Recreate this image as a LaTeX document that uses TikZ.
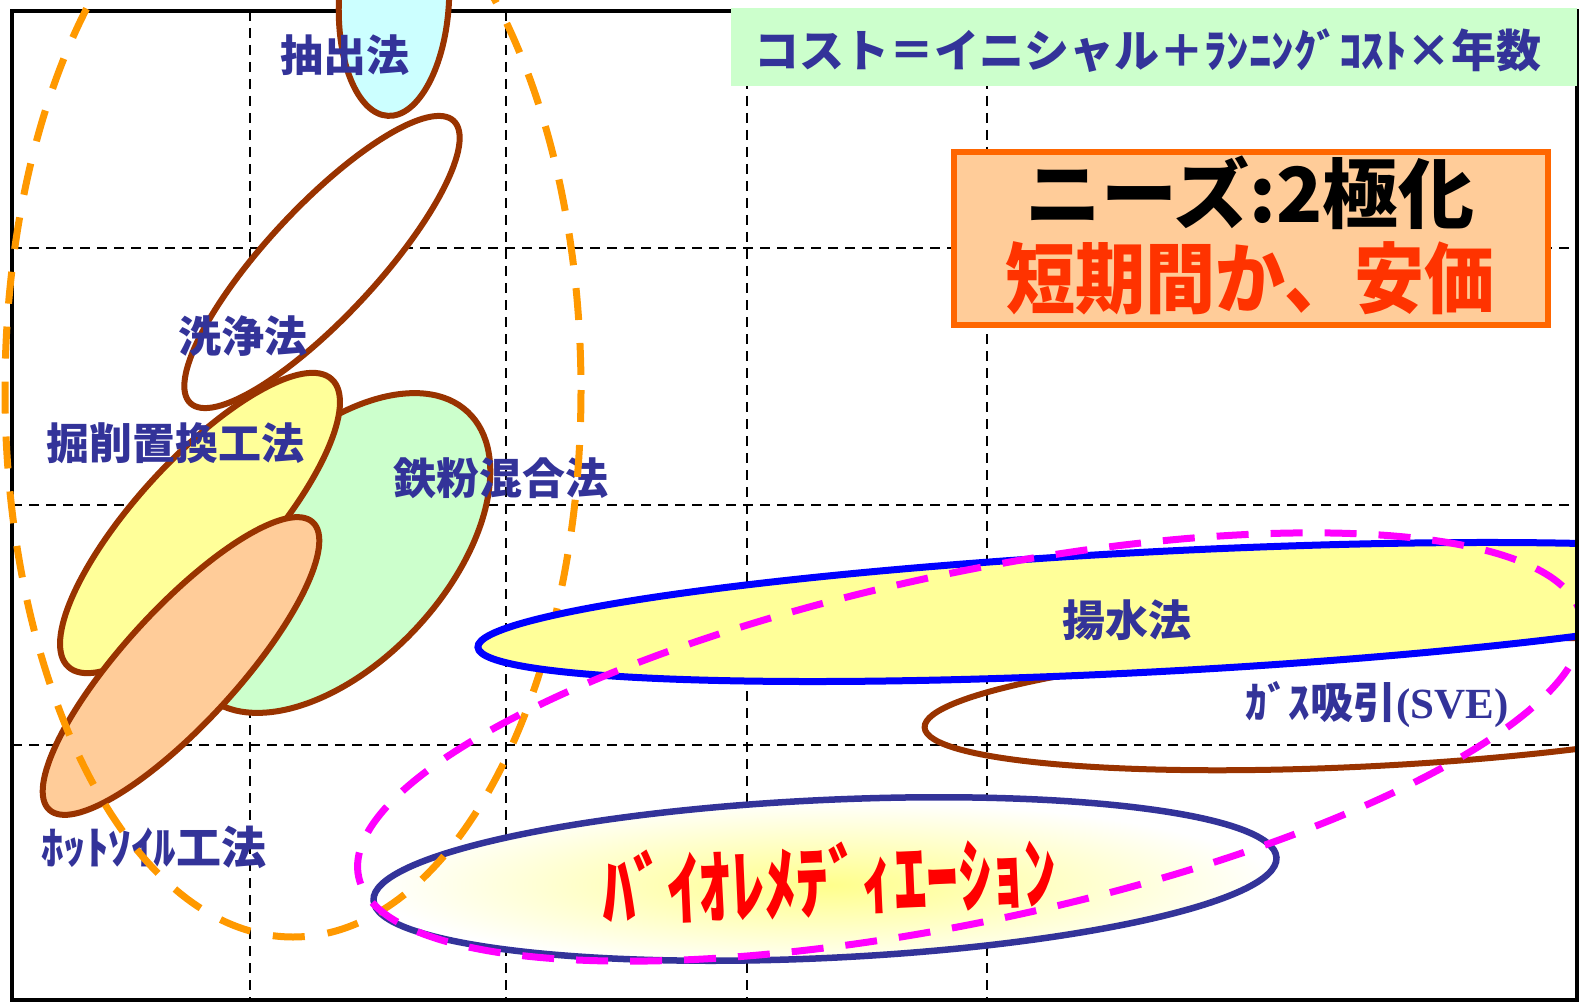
\documentclass[tikz,border=0pt]{standalone}
\usepackage{fontspec}
\usepackage{graphicx}
\newfontfamily\jp{Noto Sans CJK JP Black}
\newfontfamily\ser{Liberation Serif}
\definecolor{brownc}{HTML}{993300}
\definecolor{dblue}{HTML}{333399}
\definecolor{cyanc}{HTML}{CCFFFF}
\definecolor{greenc}{HTML}{CCFFCC}
\definecolor{yellowc}{HTML}{FFFF99}
\definecolor{peachc}{HTML}{FFCC99}
\definecolor{orangec}{HTML}{FF9900}
\definecolor{orangeb}{HTML}{FF6600}
\definecolor{magc}{HTML}{FF00FF}
\definecolor{redc}{HTML}{FF0000}
\definecolor{red2}{HTML}{FF3300}
\definecolor{bluec}{HTML}{0000FF}
\definecolor{bioy}{HTML}{FFFF8C}
\tikzset{
  gridline/.style={black, line width=2.5pt, dash pattern=on 10pt off 7pt},
  brownell/.style={draw=brownc, line width=6pt},
  odash/.style={draw=orangec, line width=7pt, dash pattern=on 32pt off 23pt},
  mdash/.style={draw=magc, line width=7pt, dash pattern=on 32pt off 22pt},
  lbl/.style={font=\jp\fontsize{43}{43}\selectfont, text=dblue, inner sep=0pt},
}
\begin{document}
\begin{tikzpicture}[x=1pt,y=-1pt]
\useasboundingbox (0,0) rectangle (1580,1003);
\fill[white] (0,0) rectangle (1580,1003);
% grid
\foreach \gx in {250,506,747,987} \draw[gridline] (\gx,11) -- (\gx,1000);
\foreach \gy in {248,505,745} \draw[gridline] (12,\gy) -- (1577,\gy);
% frame
\draw[line width=4pt] (12,11) rectangle (1577,1000);
\begin{scope}
\clip (0,0) rectangle (1578,1003);
% left cluster
\draw[brownell, fill=cyanc, rotate around={-3:(394,0)}] (394,0) ellipse [x radius=55, y radius=116];
\draw[brownell, fill=white, rotate around={47:(322,262)}] (322,262) ellipse [x radius=193, y radius=55];
\draw[brownell, fill=greenc, rotate around={47:(336,553)}] (336,553) ellipse [x radius=193, y radius=110];
\draw[brownell, fill=yellowc, rotate around={47.5:(200,523)}] (200,523) ellipse [x radius=195, y radius=64];
\draw[brownell, fill=peachc, rotate around={47.5:(181,666)}] (181,666) ellipse [x radius=195, y radius=57];
% bioremediation
\shade[rotate around={2.7:(825,879)}, inner color=bioy, outer color=white] (825,879) ellipse [x radius=452, y radius=79];
\draw[draw=dblue, line width=6.5pt, rotate around={2.7:(825,879)}] (825,879) ellipse [x radius=452, y radius=79];
% labels in left cluster
\node[lbl] (tchu) at (345,55) {抽出法};
\node[lbl] (tsen) at (243,336) {洗浄法};
\node[lbl] (tkus) at (175,443) {掘削置換工法};
\node[lbl] (ttep) at (501,478) {鉄粉混合法};
\node[lbl, font=\jp\fontsize{45}{45}\selectfont] (thot) at (154,847) {ﾎｯﾄｿｲﾙ工法};
% orange dashed group
\draw[odash] (293,390) ellipse [x radius=288, y radius=547];
% gas extraction
\draw[brownell, rotate around={3:(1374,704)}] (1374,704) ellipse [x radius=450, y radius=62];
% pumping
\draw[draw=bluec, fill=yellowc, line width=7pt, rotate around={3:(1150,612)}] (1150,612) ellipse [x radius=673, y radius=60];
% magenta dashed group
\draw[mdash, rotate around={12:(970,747)}] (970,747) ellipse [x radius=625, y radius=174];
\end{scope}
% right frame edge over the fills
\draw[line width=4pt] (1577,86) -- (1577,1000);
% cost box
\node[fill=greenc, minimum width=846pt, minimum height=78pt, inner sep=0pt] (costbox) at (1154,47) {};
\node[font=\jp\fontsize{45}{45}\selectfont, text=dblue, inner sep=0pt] (cost) at (1148,51) {コスト＝イニシャル＋ﾗﾝﾆﾝｸﾞｺｽﾄ×年数};
% needs box
\node[draw=orangeb, fill=peachc, line width=6pt, minimum width=594pt, minimum height=173pt, inner sep=0pt] (needs) at (1251,238.5) {};
\node[font=\jp\fontsize{76}{76}\selectfont, text=black, inner sep=0pt] (n1) at (1250,193) {ニーズ:2極化};
\node[font=\jp\fontsize{77}{77}\selectfont, text=red2, inner sep=0pt] (n2) at (1250,278) {\scalebox{0.91}[1]{短期間か、安価}};
% right labels
\node[lbl] (tyou) at (1127,620) {揚水法};
\node[lbl] (tgas) at (1377,705) {ｶﾞｽ吸引{\ser\bfseries(SVE)}};
\node[font=\jp\fontsize{65}{65}\selectfont, text=redc, inner sep=0pt, rotate=2.5] (tbio) at (829,880) {\scalebox{1}[1.25]{ﾊﾞｲｵﾚﾒﾃﾞｨｴｰｼｮﾝ}};
\end{tikzpicture}
\end{document}
